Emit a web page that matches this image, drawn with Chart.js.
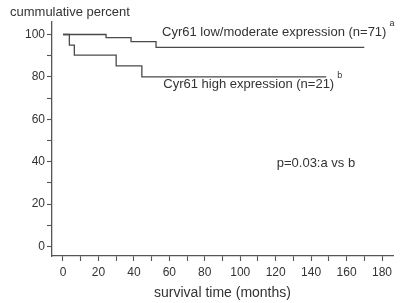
<!DOCTYPE html>
<html>
<head>
<meta charset="utf-8">
<script src="https://cdn.jsdelivr.net/npm/chart.js@4"></script>
<style>
  html, body { margin: 0; padding: 0; background: #ffffff; }
  #wrap { width: 405px; height: 303px; position: relative; }
</style>
</head>
<body>
<div id="wrap"><canvas id="c" width="405" height="303"></canvas></div>
<script>
// Kaplan-Meier steps: months and cumulative percent
const lowMonths   = [0, 24.3, 38.4, 52.5, 170];
const lowPercent  = [100, 98.5, 96.6, 93.9, 93.9];
const highMonths  = [0, 3.6, 6.4, 30, 44.5, 148.5];
const highPercent = [100, 95, 90.3, 85.2, 80, 80];
const seriesNames = ['Cyr61 low/moderate expression (n=71)', 'Cyr61 high expression (n=21)'];

// Axis ticks
const xTicksMajor = [0, 20, 40, 60, 80, 100, 120, 140, 160, 180];
const yTicksMajor = [0, 20, 40, 60, 80, 100];

// Text notes inside the plot (anchored in data units)
const noteText = ['Cyr61 low/moderate expression (n=71)', 'Cyr61 high expression (n=21)', 'p=0.03:a vs b'];
const noteSup  = ['a', 'b', ''];
const noteX    = [55.9, 56.6, 120.6];
const noteY    = [100.9, 76.3, 39.2];

const INK = '#333333';
const LINE = '#4a4a4a';
const FAMILY = '"Liberation Sans", Arial, Helvetica, sans-serif';

Chart.defaults.font.family = FAMILY;
Chart.defaults.color = INK;

function toPoints(xs, ys) { return xs.map((x, i) => ({ x: x, y: ys[i] })); }

const notesPlugin = {
  id: 'notes',
  afterDatasetsDraw(chart) {
    const ctx = chart.ctx;
    const xs = chart.scales.x, ys = chart.scales.y;
    ctx.save();
    ctx.fillStyle = INK;
    ctx.textBaseline = 'middle';
    ctx.textAlign = 'left';
    for (let i = 0; i < noteText.length; i++) {
      const px = xs.getPixelForValue(noteX[i]);
      const py = ys.getPixelForValue(noteY[i]);
      ctx.font = '13px ' + FAMILY;
      ctx.fillText(noteText[i], px, py);
      if (noteSup[i]) {
        const w = ctx.measureText(noteText[i]).width;
        ctx.font = '9px ' + FAMILY;
        ctx.fillText(noteSup[i], px + w + 3, py - 9.5);
      }
    }
    ctx.restore();
  }
};

new Chart(document.getElementById('c'), {
  type: 'line',
  data: {
    datasets: [
      {
        label: seriesNames[0],
        data: toPoints(lowMonths, lowPercent),
        stepped: 'before',
        borderColor: LINE,
        borderWidth: 1.3,
        pointRadius: 0,
        fill: false
      },
      {
        label: seriesNames[1],
        data: toPoints(highMonths, highPercent),
        stepped: 'before',
        borderColor: LINE,
        borderWidth: 1.3,
        pointRadius: 0,
        fill: false
      }
    ]
  },
  options: {
    responsive: false,
    animation: false,
    devicePixelRatio: 1,
    layout: { padding: { left: 10, right: 12, top: 5, bottom: 1.8 } },
    plugins: {
      legend: { display: false },
      tooltip: { enabled: false },
      title: {
        display: true,
        text: 'cummulative percent',
        align: 'start',
        color: INK,
        font: { size: 13, weight: 'normal' },
        padding: { top: 0, bottom: 1.4 }
      }
    },
    scales: {
      x: {
        type: 'linear',
        min: -6.2,
        max: 186.2,
        border: { display: true, color: '#555555', width: 1.3 },
        grid: { display: true, drawOnChartArea: false, drawTicks: true, tickLength: 5, color: '#555555', tickColor: '#555555', tickWidth: 1.1 },
        ticks: {
          stepSize: 10,
          includeBounds: false,
          autoSkip: false,
          maxRotation: 0,
          padding: 4,
          color: INK,
          font: { size: 12 },
          callback: (v) => xTicksMajor.includes(v) ? String(v) : ''
        },
        title: {
          display: true,
          text: 'survival time (months)',
          color: INK,
          font: { size: 14 },
          padding: { top: 1, bottom: 0 }
        }
      },
      y: {
        type: 'linear',
        min: -4.5,
        max: 105.9,
        border: { display: true, color: '#555555', width: 1.3 },
        grid: { display: true, drawOnChartArea: false, drawTicks: true, tickLength: 5, color: '#555555', tickColor: '#555555', tickWidth: 1.1 },
        ticks: {
          stepSize: 10,
          includeBounds: false,
          autoSkip: false,
          padding: 2,
          color: INK,
          font: { size: 12 },
          callback: (v) => yTicksMajor.includes(v) ? String(v) : ''
        },
        afterFit: (scale) => { scale.width = 42; }
      }
    }
  },
  plugins: [notesPlugin]
});
</script>
</body>
</html>
